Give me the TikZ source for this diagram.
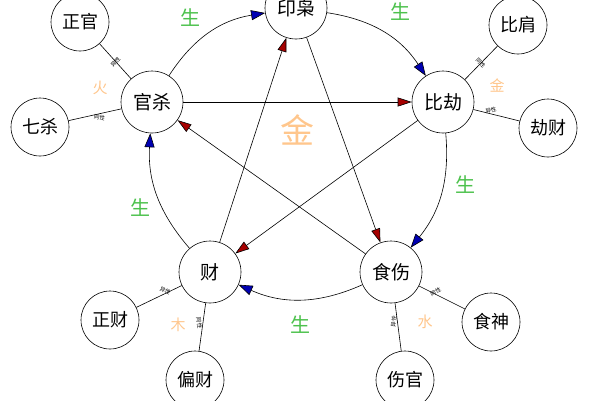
\documentclass[tikz,border=0pt]{standalone}
\usepackage{fontspec}
\newfontfamily\cjk{Noto Sans CJK SC}
\usetikzlibrary{arrows.meta}
\tikzset{every picture/.style={line width=0.6pt}}
\tikzset{
  gan/.style={circle,draw,fill=white,minimum size=62pt,inner sep=0pt,font=\cjk\fontsize{19}{19}\selectfont},
  leaf/.style={circle,draw,fill=white,minimum size=58pt,inner sep=0pt,font=\cjk\fontsize{18}{18}\selectfont},
  sheng/.style={font=\cjk\fontsize{20}{20}\selectfont,text=green!65!black!70},
  wuxing/.style={font=\cjk\fontsize{15}{15}\selectfont,text=orange!45},
  xing/.style={font=\cjk\fontsize{5.5}{5.5}\selectfont,sloped,above,inner sep=1pt,pos=0.4},
  shengarr/.style={-{Triangle[length=14pt,width=10pt,fill=blue!70!black]}},
  kearr/.style={-{Triangle[length=14pt,width=9pt,fill=red!65!black]}},
}

\begin{document}
\begin{tikzpicture}[x=1pt,y=1pt,yscale=-1]
\useasboundingbox (0,0) rectangle (600,400);

% main nodes
\node [gan] (yin) at (296,8) {印枭};
\node [gan] (guan) at (152,102) {官杀};
\node [gan] (bi) at (443,102) {比劫};
\node [gan] (cai) at (210,272) {财};
\node [gan] (shi) at (391,272) {食伤};

% sheng cycle
\draw [shengarr] (guan) to[bend right=24] (yin);
\draw [shengarr] (yin) to[bend right=24] (bi);
\draw [shengarr] (bi) to[bend right=22] (shi);
\draw [shengarr] (shi) to[bend right=24] (cai);
\draw [shengarr] (cai) to[bend right=22] (guan);

% ke cycle
\draw [kearr] (guan) -- (bi);
\draw [kearr] (cai) -- (yin);
\draw [kearr] (bi) -- (cai);
\draw [kearr] (yin) -- (shi);
\draw [kearr] (shi) -- (guan);

% centre
\node [font=\cjk\fontsize{34}{34}\selectfont,text=orange!45] (jin) at (297,130) {金};

% leaves
\node [leaf] (zhengguan) at (80,22) {正官};
\node [leaf] (qisha) at (40,127) {七杀};
\node [leaf] (bijian) at (518,25) {比肩};
\node [leaf] (jiecai) at (548,128) {劫财};
\node [leaf] (zhengcai) at (110,320) {正财};
\node [leaf] (piancai) at (195,380) {偏财};
\node [leaf] (shishen) at (491,322) {食神};
\node [leaf] (shangguan) at (405,380) {伤官};

% spokes
\draw (guan) -- node [xing] {异性} (zhengguan);
\draw (guan) -- node [xing,below] {同性} (qisha);
\draw (bi) -- node [xing] {同性} (bijian);
\draw (bi) -- node [xing] {异性} (jiecai);
\draw (cai) -- node [xing] {异性} (zhengcai);
\draw (cai) -- node [xing,below] {同性} (piancai);
\draw (shi) -- node [xing] {同性} (shishen);
\draw (shi) -- node [xing] {异性} (shangguan);

% labels
\node [sheng] (s1) at (190,18) {生};
\node [sheng] (s2) at (400,12) {生};
\node [sheng] (s3) at (465,185) {生};
\node [sheng] (s4) at (300,325) {生};
\node [sheng] (s5) at (140,208) {生};
\node [wuxing] (huo) at (100,88) {火};
\node [wuxing] (jin2) at (497,86) {金};
\node [wuxing] (shui) at (425,322) {水};
\node [wuxing] (mu) at (178,325) {木};
\end{tikzpicture}
\end{document}
